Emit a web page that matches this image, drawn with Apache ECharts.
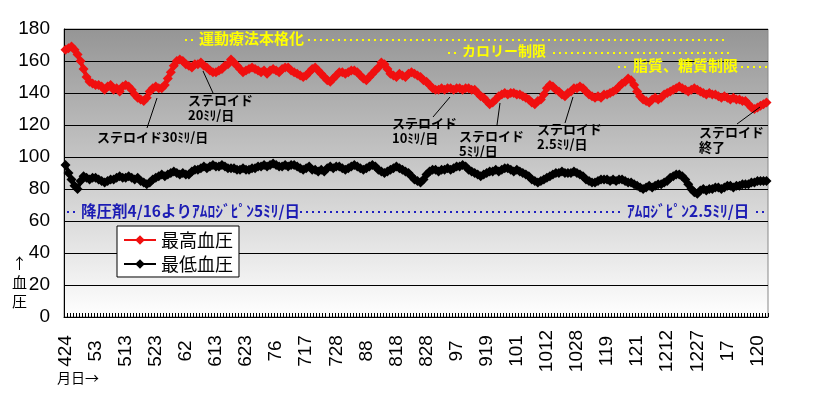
<!DOCTYPE html>
<html>
<head>
<meta charset="utf-8">
<script src="https://cdn.jsdelivr.net/npm/echarts@6/dist/echarts.min.js"></script>
<style>
  html, body { margin: 0; padding: 0; background: #fff; }
  #main { width: 814px; height: 397px; }
</style>
</head>
<body>
<div id="main"></div>
<script>
// tick labels, one every 10 readings
var xTickLabels = ['424','53','513','523','62','613','623','76','717','728','88','818',
  '828','97','919','101','1012','1028','119','121','1212','1227','17','120'];

var highBP = [167,168,169,167,164,160,155,150,147,146,
  145,145,144,142,144,145,142,143,141,144,
  145,144,142,139,137,136,135,137,141,143,
  144,143,143,145,149,153,157,160,161,160,
  158,157,156,158,158,159,157,156,154,153,
  153,154,155,157,158,161,159,157,155,153,
  154,155,156,155,154,153,154,152,154,155,
  154,153,155,156,156,154,153,152,151,150,
  151,153,155,156,154,152,150,148,147,149,
  151,153,153,152,153,154,154,153,151,149,
  148,150,152,154,156,159,158,155,152,151,
  150,152,151,150,152,153,152,151,150,148,
  147,145,143,142,142,143,142,143,143,142,
  143,143,142,143,143,142,142,140,138,137,
  135,133,134,136,138,139,140,139,140,140,
  139,139,138,137,136,134,133,135,136,139,
  143,145,144,142,141,139,138,140,141,143,
  143,144,143,141,139,138,137,138,137,139,
  139,140,141,142,144,146,147,149,148,145,
  141,138,136,135,134,136,137,136,137,139,
  140,141,142,143,144,143,142,141,142,143,
  142,141,140,139,140,139,139,138,137,138,
  137,136,137,136,136,135,135,133,131,130,
  131,132,133,134];

var lowBP = [95,90,86,82,80,85,88,87,86,87,
  87,86,85,84,85,86,86,87,88,87,
  87,88,87,86,87,85,84,83,84,86,
  87,88,89,88,89,90,91,90,89,90,
  89,89,91,92,92,93,94,93,94,95,
  94,94,95,94,93,93,93,92,92,93,
  92,92,93,93,94,94,95,94,95,96,
  95,94,94,95,94,95,95,94,93,92,
  93,94,92,92,91,92,91,93,94,93,
  94,94,93,92,93,94,95,94,93,92,
  93,94,95,94,92,91,90,91,92,93,
  94,93,92,91,90,88,86,85,84,86,
  89,91,92,92,91,92,92,93,92,93,
  94,94,95,94,92,91,90,89,88,89,
  90,91,91,92,91,92,93,93,92,91,
  92,91,90,89,88,86,85,84,85,86,
  87,88,89,90,90,91,90,90,90,91,
  90,89,88,86,85,84,84,85,86,86,
  86,85,86,85,86,86,85,84,84,83,
  82,81,80,81,82,81,82,83,83,84,
  85,87,88,89,89,88,86,83,80,78,
  77,79,80,79,80,80,81,81,80,81,
  82,82,81,82,82,83,83,83,84,84,
  85,85,85,85];

var categories = highBP.map(function (v, i) { return 'r' + i; });

var jp = '"Noto Sans CJK JP", sans-serif';

function note(x, y, txt) {
  return { type: 'text', left: x, top: y, z: 10,
    style: { text: txt, fill: '#000', font: 'bold 13px ' + jp, lineHeight: 15 } };
}
function leader(x1, y1, x2, y2) {
  return { type: 'line', z: 10, shape: { x1: x1, y1: y1, x2: x2, y2: y2 },
    style: { stroke: '#000', lineWidth: 1 } };
}
function dots(x1, x2, y, color) {
  return { type: 'line', z: 9, shape: { x1: x1, y1: y, x2: x2, y2: y },
    style: { stroke: color, lineWidth: 2, lineDash: [2, 4] } };
}
function label(x, y, txt, color, size) {
  return { type: 'text', left: x, top: y, z: 10,
    style: { text: txt, fill: color, font: 'bold ' + size + 'px ' + jp } };
}

var myChart = echarts.init(document.getElementById('main'));

var option = {
  animation: false,
  grid: {
    left: 64, right: 46, top: 29, bottom: 80,
    show: true,
    borderColor: '#888',
    borderWidth: 1,
    backgroundColor: {
      type: 'linear', x: 0, y: 0, x2: 0, y2: 1,
      colorStops: [{ offset: 0, color: '#959595' }, { offset: 1, color: '#ffffff' }]
    }
  },
  legend: {
    orient: 'vertical',
    left: 117, top: 226,
    backgroundColor: '#fff',
    borderColor: '#000',
    borderWidth: 1,
    padding: [5, 6, 4, 6],
    itemGap: 6,
    itemWidth: 32,
    itemHeight: 12,
    textStyle: { fontSize: 18, color: '#000', fontFamily: jp },
    data: ['最高血圧', '最低血圧']
  },
  xAxis: {
    type: 'category',
    data: categories,
    boundaryGap: true,
    axisLine: { lineStyle: { color: '#000', width: 1 } },
    axisTick: { show: true, interval: 0, inside: true, length: 4, lineStyle: { color: '#000' } },
    axisLabel: {
      interval: 9, rotate: 90, margin: 34, align: 'center',
      fontSize: 19, color: '#000', fontFamily: 'Liberation Sans, Arial',
      formatter: function (v, i) { return xTickLabels[i / 10] || ''; }
    },
    splitLine: { show: false }
  },
  yAxis: {
    type: 'value',
    min: 0, max: 180, interval: 20,
    axisLine: { show: true, lineStyle: { color: '#000' } },
    axisTick: { show: false },
    axisLabel: { fontSize: 19, color: '#000', margin: 14, fontFamily: 'Liberation Sans, Arial' },
    splitLine: { lineStyle: { color: '#000', width: 1 } }
  },
  series: [
    {
      name: '最高血圧', type: 'line', data: highBP,
      symbol: 'diamond', symbolSize: 10, showAllSymbol: true,
      itemStyle: { color: '#f01010' },
      lineStyle: { color: '#f01010', width: 4 }
    },
    {
      name: '最低血圧', type: 'line', data: lowBP,
      symbol: 'diamond', symbolSize: 10, showAllSymbol: true,
      itemStyle: { color: '#000' },
      lineStyle: { color: '#000', width: 4 }
    }
  ],
  graphic: [
    { type: 'text', left: 12, top: 254, style: { text: '↑\n血\n圧', font: '15px ' + jp, fill: '#000', lineHeight: 19 } },
    { type: 'text', left: 57, top: 371, style: { text: '月日→', font: '14px ' + jp, fill: '#000' } },

    note(97, 130, 'ステロイド30ﾐﾘ/日'),
    leader(147, 128, 157, 98),
    note(188, 93, 'ステロイド\n20ﾐﾘ/日'),
    leader(213, 93, 203, 71),
    note(392, 116, 'ステロイド\n10ﾐﾘ/日'),
    leader(433, 117, 450, 97),
    note(459, 129, 'ステロイド\n5ﾐﾘ/日'),
    leader(497, 125, 500, 103),
    note(537, 122, 'ステロイド\n2.5ﾐﾘ/日'),
    leader(565, 123, 573, 97),
    note(699, 125, 'ステロイド\n終了'),
    leader(737, 124, 760, 107),

    dots(185, 196, 40, '#ffff00'),
    label(199, 31, '運動療法本格化', '#ffff00', 15),
    dots(308, 727, 40, '#ffff00'),
    dots(448, 459, 53, '#ffff00'),
    label(462, 44, 'カロリー制限', '#ffff00', 14),
    dots(553, 733, 53, '#ffff00'),
    dots(618, 629, 67, '#ffff00'),
    label(633, 58, '脂質、糖質制限', '#ffff00', 15),
    dots(741, 768, 67, '#ffff00'),

    dots(67, 78, 212, '#2020c0'),
    label(81, 203, '降圧剤4/16よりｱﾑﾛｼﾞﾋﾟﾝ5ﾐﾘ/日', '#1c1cb4', 15.5),
    dots(300, 624, 212, '#2020c0'),
    label(627, 203, 'ｱﾑﾛｼﾞﾋﾟﾝ2.5ﾐﾘ/日', '#1c1cb4', 15.5),
    dots(756, 768, 212, '#2020c0')
  ]
};

myChart.setOption(option);
</script>
</body>
</html>
